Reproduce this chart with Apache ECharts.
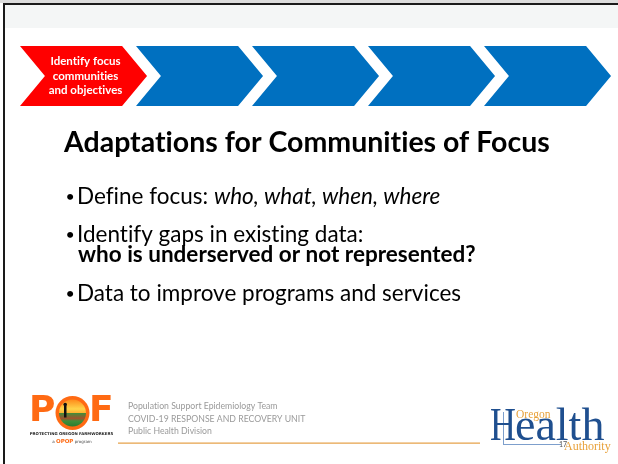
<!DOCTYPE html>
<html><head><meta charset="utf-8">
<script src="https://cdn.jsdelivr.net/npm/echarts@6/dist/echarts.min.js"></script>
<style>html,body{margin:0;padding:0;background:#fff}#c{width:618px;height:464px}</style>
</head><body><div id="c"></div>
<script>
// ---- content ----
const stageIndex = [0, 1, 2, 3, 4];
const stageLabels = ['Identify focus\ncommunities\nand objectives', '', '', '', ''];
const stageActive = [1, 0, 0, 0, 0];
const titleText = 'Adaptations for Communities of Focus';
const bullet1 = ['Define focus: ', 'who, what, when, where'];
const bullet2 = ['Identify gaps in existing data:', 'who is underserved or not represented?'];
const bullet3 = ['Data to improve programs and services'];
const footerLines = ['Population Support Epidemiology Team', 'COVID-19 RESPONSE AND RECOVERY UNIT', 'Public Health Division'];
const pofLetters = ['P', 'F'];
const pofTagline = 'PROTECTING OREGON FARMWORKERS';
const pofSub = ['a ', 'OPOP', ' program'];
const ohaWords = ['H', 'ealth', 'Oregon', 'Authority'];
const slideNumber = '17';

// avoid discretionary ligatures (Calibri-like look)
(function () {
  const P = CanvasRenderingContext2D.prototype;
  ['fillText', 'strokeText', 'measureText'].forEach(function (fn) {
    const orig = P[fn];
    P[fn] = function () { try { this.textRendering = 'optimizeSpeed'; } catch (e) {} return orig.apply(this, arguments); };
  });
})();

const FONT = 'Lato, "Open Sans", sans-serif';
const SERIF = '"Liberation Serif", "DejaVu Serif", serif';

function renderChevron(params, api) {
  const i = api.value(0);
  const active = api.value(1);
  const p0 = api.coord([i, 1]);
  const p1 = api.coord([i + 1, 0]);
  const step = p1[0] - p0[0];
  const top = p0[1], bot = p1[1], mid = (top + bot) / 2;
  const tip = step * 0.215;
  const body = step * 0.88;
  const L = p0[0];
  const children = [{
    type: 'polygon',
    shape: { points: [[L, top], [L + body, top], [L + body + tip, mid], [L + body, bot], [L, bot], [L + tip, mid]] },
    style: { fill: active ? '#ff0000' : '#0070c0' }
  }];
  const label = stageLabels[params.dataIndex];
  if (label) {
    children.push({
      type: 'text',
      style: {
        x: L + (tip + body) / 2 + 2, y: mid,
        text: label, fill: '#ffffff', font: 'bold 11.5px ' + FONT,
        align: 'center', verticalAlign: 'middle', lineHeight: 14.5
      }
    });
  }
  return { type: 'group', children };
}

const g = [];
// header band and borders
g.push({ type: 'rect', shape: { x: 0, y: 0, width: 618, height: 3 }, style: { fill: '#dcdcdc' }, z: 1 });
g.push({ type: 'rect', shape: { x: 5, y: 5, width: 613, height: 23 }, style: { fill: '#f4f6f6' }, z: 1 });
g.push({ type: 'rect', shape: { x: 3, y: 3, width: 615, height: 2 }, style: { fill: '#1a1a1a' }, z: 2 });
g.push({ type: 'rect', shape: { x: 3, y: 3, width: 2, height: 461 }, style: { fill: '#1a1a1a' }, z: 2 });

// title
g.push({ type: 'text', z: 5, style: { x: 64, y: 143, text: titleText, font: 'bold 28.5px ' + FONT, fill: '#000', verticalAlign: 'middle' } });

// bullets
const BF = 22.5;
function bulletDot(y) {
  return { type: 'text', z: 5, style: { x: 65.5, y: y, text: '•', font: '16px ' + FONT, fill: '#000', verticalAlign: 'middle' } };
}
g.push(bulletDot(197));
g.push({ type: 'text', z: 5, style: { x: 77, y: 197, verticalAlign: 'middle',
  text: '{n|' + bullet1[0] + '}{i|' + bullet1[1] + '}',
  rich: { n: { fontSize: BF, fontFamily: FONT, fill: '#000' }, i: { fontSize: BF, fontFamily: FONT, fontStyle: 'italic', fill: '#000' } } } });
g.push(bulletDot(235));
g.push({ type: 'text', z: 5, style: { x: 77, y: 235, text: bullet2[0], font: BF + 'px ' + FONT, fill: '#000', verticalAlign: 'middle' } });
g.push({ type: 'text', z: 5, style: { x: 78, y: 255, text: bullet2[1], font: 'bold ' + BF + 'px ' + FONT, fill: '#000', verticalAlign: 'middle' } });
g.push(bulletDot(294));
g.push({ type: 'text', z: 5, style: { x: 77, y: 294, text: bullet3[0], font: BF + 'px ' + FONT, fill: '#000', verticalAlign: 'middle' } });

// footer text
footerLines.forEach((t, k) => {
  g.push({ type: 'text', z: 5, style: { x: 128, y: 406 + k * 12.7, text: t, font: '8.7px ' + FONT, fill: '#9a9a9a', verticalAlign: 'middle' } });
});
g.push({ type: 'rect', z: 5, shape: { x: 118, y: 442.5, width: 362, height: 1.3 }, style: { fill: '#e6a24a' } });

// POF logo
g.push({ type: 'rect', z: 3, shape: { x: 25, y: 389, width: 93, height: 61 }, style: { fill: '#ffffff' } });
g.push({ type: 'text', z: 5, style: { x: 29, y: 412, text: pofLetters[0], font: 'bold 36px "DejaVu Sans", sans-serif', fill: '#ff6a13', verticalAlign: 'middle' } });
g.push({ type: 'text', z: 5, style: { x: 89, y: 412, text: pofLetters[1], font: 'bold 36px "DejaVu Sans", sans-serif', fill: '#ff6a13', verticalAlign: 'middle' } });
g.push({ type: 'circle', z: 5, shape: { cx: 72.5, cy: 413, r: 17 }, style: { fill: '#ff6a13' } });
g.push({ type: 'circle', z: 6, shape: { cx: 72.5, cy: 413, r: 13.5 }, style: {
  fill: { type: 'linear', x: 0, y: 0, x2: 0, y2: 1, colorStops: [
    { offset: 0, color: '#ff8a1a' }, { offset: 0.35, color: '#ffd44a' }, { offset: 0.5, color: '#ffb030' },
    { offset: 0.5, color: '#3f8f3a' }, { offset: 0.7, color: '#a0522d' }, { offset: 0.8, color: '#3f8f3a' }, { offset: 1, color: '#2f7a2f' }] } } });
g.push({ type: 'rect', z: 8, shape: { x: 64, y: 405.5, width: 2.5, height: 12 }, style: { fill: '#111' } });
g.push({ type: 'circle', z: 8, shape: { cx: 65.2, cy: 404.5, r: 1.8 }, style: { fill: '#111' } });
g.push({ type: 'text', z: 5, style: { x: 71.5, y: 433.5, text: pofTagline, font: 'bold 3.9px "DejaVu Sans", sans-serif', fill: '#222', align: 'center', verticalAlign: 'middle' } });
g.push({ type: 'text', z: 5, style: { x: 72, y: 442, align: 'center', verticalAlign: 'middle',
  text: '{a|' + pofSub[0] + '}{b|' + pofSub[1] + '}{a|' + pofSub[2] + '}',
  rich: { a: { fontSize: 4, fontFamily: 'DejaVu Sans', fill: '#444' }, b: { fontSize: 5.5, fontWeight: 'bold', fontFamily: 'DejaVu Sans', fill: '#ff6a13' } } } });

// OHA logo
const OHA_BLUE = '#1f4f8f', OHA_ORANGE = '#e8a13a';
g.push({ type: 'rect', z: 5, shape: { x: 503, y: 412, width: 1, height: 33 }, style: { fill: '#7d9fcc' } });
g.push({ type: 'rect', z: 5, shape: { x: 503, y: 444, width: 58, height: 1 }, style: { fill: '#7d9fcc' } });
g.push({ type: 'text', z: 6, scaleX: 0.78, x: 490, style: { x: 0, y: 428, text: ohaWords[0], font: '46px ' + SERIF, fill: OHA_BLUE, verticalAlign: 'middle' } });
g.push({ type: 'text', z: 6, style: { x: 515, y: 428, text: ohaWords[1], font: '46px ' + SERIF, fill: OHA_BLUE, verticalAlign: 'middle' } });
g.push({ type: 'text', z: 7, style: { x: 516, y: 415, text: ohaWords[2], font: '11.5px ' + SERIF, fill: OHA_ORANGE, verticalAlign: 'middle' } });
g.push({ type: 'text', z: 7, style: { x: 564, y: 447, text: ohaWords[3], font: '12px ' + SERIF, fill: OHA_ORANGE, verticalAlign: 'middle' } });
g.push({ type: 'text', z: 8, style: { x: 559, y: 445, text: slideNumber, font: '7px ' + FONT, fill: '#555', verticalAlign: 'middle' } });

const chart = echarts.init(document.getElementById('c'));
chart.setOption({
  backgroundColor: '#ffffff',
  animation: false,
  grid: { left: 20, top: 46, width: 580, height: 60 },
  xAxis: { type: 'value', min: 0, max: 5, show: false },
  yAxis: { type: 'value', min: 0, max: 1, show: false },
  series: [{ type: 'custom', renderItem: renderChevron, data: stageIndex.map((v, k) => [v, stageActive[k]]), z: 10 }],
  graphic: { elements: g }
});
</script></body></html>
